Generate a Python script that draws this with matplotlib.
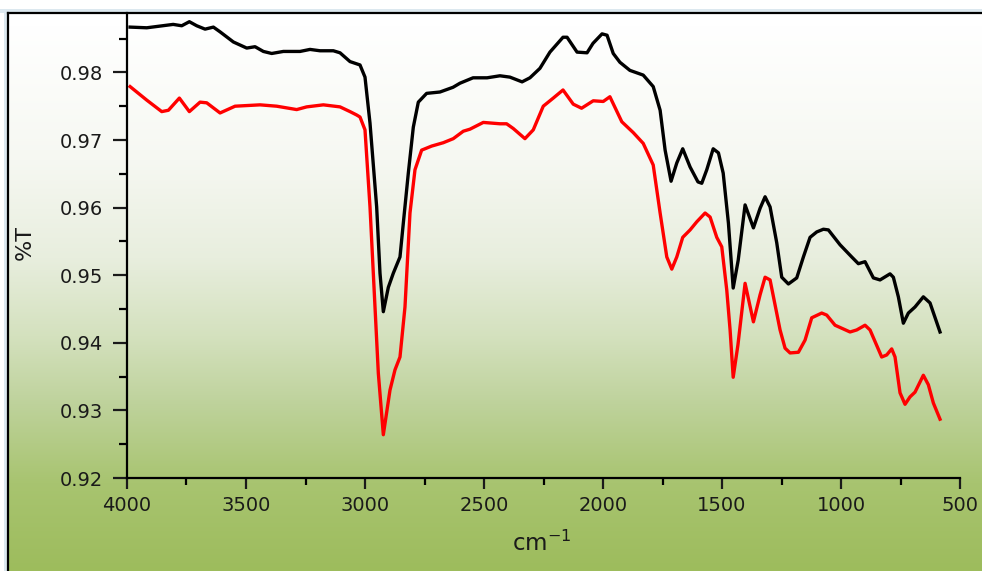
import numpy as np
import matplotlib
matplotlib.use("Agg")
import matplotlib.pyplot as plt
from matplotlib.ticker import MultipleLocator

plt.rcParams['font.family'] = ['DejaVu Sans']
plt.rcParams['mathtext.fontset'] = 'dejavusans'

# ---- data (wavenumber cm-1, %T) ----
black_wn = [3987, 3917, 3806, 3770, 3738, 3707, 3672, 3637, 3609, 3553, 3497, 3462, 3427, 3392,
            3343, 3273, 3231, 3189, 3133, 3105, 3063, 3021, 3000, 2979, 2951, 2937, 2923, 2902,
            2881, 2853, 2839, 2818, 2797, 2776, 2741, 2685, 2630, 2601, 2546, 2487, 2433, 2391,
            2340, 2307, 2265, 2223, 2168, 2151, 2109, 2067, 2042, 2004, 1983, 1957, 1929, 1887,
            1831, 1789, 1760, 1739, 1714, 1690, 1665, 1634, 1601, 1585, 1564, 1537, 1515, 1495,
            1473, 1453, 1432, 1403, 1368, 1340, 1319, 1298, 1270, 1249, 1221, 1186, 1158, 1130,
            1102, 1074, 1053, 1004, 955, 927, 899, 864, 836, 794, 780, 759, 738, 717, 689, 654,
            626, 584]
black_t = [0.9867, 0.9866, 0.9871, 0.9869, 0.9875, 0.9869, 0.9864, 0.9867, 0.9860, 0.9845, 0.9836,
           0.9838, 0.9831, 0.9828, 0.9831, 0.9831, 0.9834, 0.9832, 0.9832, 0.9829, 0.9816, 0.9811,
           0.9793, 0.9725, 0.9601, 0.9503, 0.9446, 0.9482, 0.9503, 0.9527, 0.9577, 0.9651, 0.9719,
           0.9756, 0.9769, 0.9771, 0.9778, 0.9784, 0.9792, 0.9792, 0.9795, 0.9793, 0.9786, 0.9792,
           0.9806, 0.9830, 0.9852, 0.9852, 0.9830, 0.9829, 0.9843, 0.9857, 0.9855, 0.9828, 0.9815,
           0.9803, 0.9796, 0.9779, 0.9744, 0.9685, 0.9639, 0.9666, 0.9687, 0.9660, 0.9638, 0.9636,
           0.9656, 0.9687, 0.9681, 0.9651, 0.9577, 0.9481, 0.9522, 0.9604, 0.9570, 0.9599, 0.9616,
           0.9601, 0.9548, 0.9497, 0.9487, 0.9496, 0.9527, 0.9556, 0.9564, 0.9568, 0.9567, 0.9545,
           0.9527, 0.9517, 0.9520, 0.9496, 0.9493, 0.9502, 0.9497, 0.9468, 0.9429, 0.9444, 0.9453,
           0.9468, 0.9459, 0.9416]

red_wn = [3987, 3917, 3854, 3826, 3780, 3738, 3693, 3665, 3609, 3546, 3441, 3371, 3287, 3245,
          3175, 3105, 3063, 3035, 3021, 3000, 2979, 2958, 2944, 2923, 2895, 2874, 2853, 2832,
          2811, 2790, 2762, 2720, 2671, 2629, 2587, 2559, 2503, 2433, 2405, 2377, 2328, 2293,
          2251, 2209, 2168, 2125, 2090, 2041, 1999, 1971, 1921, 1873, 1831, 1789, 1760, 1732,
          1711, 1690, 1665, 1634, 1606, 1571, 1550, 1522, 1501, 1480, 1466, 1453, 1433, 1403,
          1368, 1340, 1319, 1298, 1256, 1235, 1214, 1179, 1151, 1123, 1081, 1060, 1025, 962,
          934, 899, 878, 829, 808, 787, 773, 752, 731, 710, 689, 654, 633, 612, 584]
red_t = [0.9779, 0.9759, 0.9742, 0.9744, 0.9762, 0.9742, 0.9756, 0.9755, 0.9740, 0.9750, 0.9752,
         0.9750, 0.9745, 0.9749, 0.9752, 0.9749, 0.9742, 0.9737, 0.9734, 0.9715, 0.9601, 0.9453,
         0.9355, 0.9264, 0.9330, 0.9360, 0.9379, 0.9453, 0.9592, 0.9656, 0.9685, 0.9691, 0.9696,
         0.9702, 0.9713, 0.9716, 0.9726, 0.9724, 0.9724, 0.9717, 0.9702, 0.9715, 0.9750, 0.9762,
         0.9774, 0.9753, 0.9747, 0.9758, 0.9757, 0.9764, 0.9727, 0.9711, 0.9695, 0.9663, 0.9592,
         0.9527, 0.9509, 0.9527, 0.9556, 0.9567, 0.9579, 0.9592, 0.9586, 0.9556, 0.9542, 0.9478,
         0.9419, 0.9349, 0.9397, 0.9488, 0.9431, 0.9471, 0.9497, 0.9493, 0.9419, 0.9392, 0.9385,
         0.9386, 0.9404, 0.9437, 0.9444, 0.9441, 0.9426, 0.9416, 0.9419, 0.9426, 0.9419, 0.9379,
         0.9382, 0.9391, 0.9379, 0.9326, 0.9309, 0.9320, 0.9327, 0.9352, 0.9338, 0.9311, 0.9287]

y_ticks = [0.92, 0.93, 0.94, 0.95, 0.96, 0.97, 0.98]
x_ticks = [4000, 3500, 3000, 2500, 2000, 1500, 1000, 500]

W, H = 982, 571
fig = plt.figure(figsize=(W / 100, H / 100), dpi=100)

# ---- background with gradient and frame ----
bg = fig.add_axes([0, 0, 1, 1], zorder=-10)
bg.axis('off')
rows = np.arange(H)
stops_y = [13, 150, 250, 330, 400, 480, 571]
stops_r = [255, 246, 232, 212, 190, 168, 157]
stops_g = [255, 248, 238, 225, 210, 196, 188]
stops_b = [255, 242, 222, 190, 155, 112, 92]
r = np.interp(rows, stops_y, stops_r)
g = np.interp(rows, stops_y, stops_g)
b = np.interp(rows, stops_y, stops_b)
grad = np.stack([r, g, b], axis=1)[:, None, :] / 255.0
bg.imshow(grad, extent=(8, W, H, 13), aspect='auto', interpolation='bilinear')
bg.fill_between([0, W], 0, 13, color='white', lw=0)
bg.fill_between([0, W], 9, 12.5, color='#dce8ef', lw=0)
bg.fill_between([4, 7.5], 12, H, color='#dce8ef', lw=0)
bg.plot([8, 8], [13, H], color='black', lw=1.6)
bg.plot([8, W], [13, 13], color='black', lw=1.6)
bg.set_xlim(0, W)
bg.set_ylim(H, 0)

# ---- main axes ----
ax = fig.add_axes([127 / W, (H - 478) / H, 833 / W, 465 / H])
ax.patch.set_alpha(0)
ax.plot(black_wn, black_t, color='black', lw=2.4, solid_joinstyle='round')
ax.plot(red_wn, red_t, color='#ff0000', lw=2.4, solid_joinstyle='round')

ax.set_xlim(4000, 500)
ax.set_ylim(0.92, 0.92 + 465 / 6760)
ax.set_xticks(x_ticks)
ax.set_xticklabels([str(v) for v in x_ticks])
ax.set_yticks(y_ticks)
ax.set_yticklabels([f"{v:.2f}" for v in y_ticks])
ax.xaxis.set_minor_locator(MultipleLocator(250))
ax.yaxis.set_minor_locator(MultipleLocator(0.005))

for s in ['top', 'right']:
    ax.spines[s].set_visible(False)
for s in ['left', 'bottom']:
    ax.spines[s].set_linewidth(1.6)

ax.tick_params(axis='both', which='major', direction='out', width=1.6, labelsize=14,
               colors='#1a1a1a')
ax.tick_params(axis='y', which='major', length=10, pad=7)
ax.tick_params(axis='y', which='minor', length=6, width=1.6, direction='out')
ax.tick_params(axis='x', which='major', length=8, pad=5)
ax.tick_params(axis='x', which='minor', length=5, width=1.6, direction='out')

fig.text(25 / W, 1 - 242 / H, '%T', rotation=90, ha='center', va='center', fontsize=16,
         color='#1a1a1a')
fig.text(542 / W, 1 - 543 / H, r'cm$^{-1}$', ha='center', va='center', fontsize=16.5,
         color='#1a1a1a')

fig.savefig('out.png', dpi=100)
